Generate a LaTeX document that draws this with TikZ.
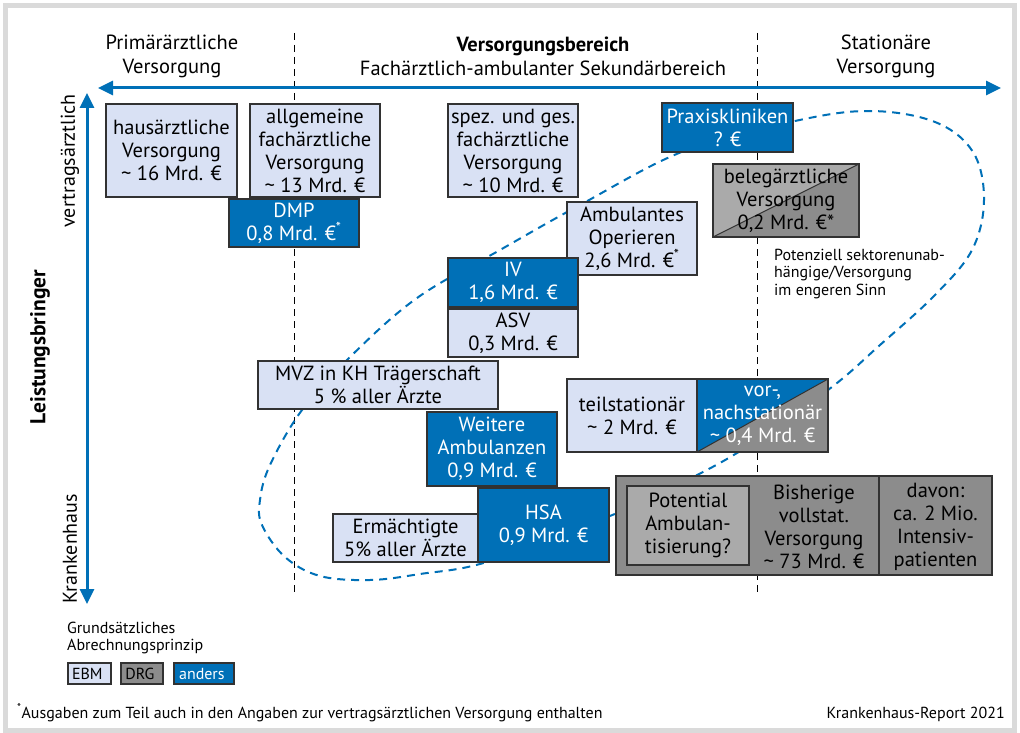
\documentclass[tikz,border=0pt]{standalone}
\usepackage{fontspec}
\setmainfont{PT Sans}
\usetikzlibrary{arrows.meta}
\definecolor{kblue}{RGB}{0,112,183}
\definecolor{ebmfill}{RGB}{217,225,244}
\definecolor{drgfill}{RGB}{140,140,140}
\definecolor{lightdrg}{RGB}{170,170,170}
\definecolor{edge}{RGB}{50,50,50}
\definecolor{frame}{RGB}{218,218,218}
\newcommand{\boxfont}{\fontsize{20.5}{23}\selectfont}
\newcommand{\headfont}{\fontsize{20.5}{24}\selectfont}
\newcommand{\smallfont}{\fontsize{16}{17.5}\selectfont}

\tikzset{
  box/.style={rectangle, draw=edge, line width=1.3, inner sep=0pt, align=center, font=\boxfont},
  ebm/.style={box, fill=ebmfill},
  drg/.style={box, fill=drgfill},
  anders/.style={box, fill=kblue, text=white},
  halfbox/.style 2 args={box, path picture={
      \fill[#1] (path picture bounding box.south west) -- (path picture bounding box.north west)
        -- (path picture bounding box.north east) -- cycle;
      \fill[#2] (path picture bounding box.south west) -- (path picture bounding box.south east)
        -- (path picture bounding box.north east) -- cycle;
      \draw[edge, line width=1] (path picture bounding box.south west) -- (path picture bounding box.north east);}},
  axis/.style={kblue, line width=3, {Triangle[length=15pt,width=14pt]}-{Triangle[length=15pt,width=14pt]}},
  divider/.style={black, line width=0.9, dash pattern=on 7pt off 5pt},
}

\begin{document}
\begin{tikzpicture}[x=1pt, y=-1pt]
  \useasboundingbox (0,0) rectangle (1020,733);
  \draw[frame, line width=5] (5.5,5.5) rectangle (1014.5,730.5);

  % sector borders
  \coordinate (dl1) at (294,33);
  \coordinate (dl2) at (294,596);
  \coordinate (dr1) at (757,33);
  \coordinate (dr2) at (757,596);
  \draw[divider] (dl1) -- (dl2);
  \draw[divider] (dr1) -- (dr2);

  % sektorenunabhaengige Versorgung
  \draw[kblue, line width=2, dash pattern=on 8pt off 6pt]
    plot [smooth cycle, tension=0.6] coordinates {
      (684,151) (795,121) (870,111) (935,122) (973,152) (984,200) (972,250) (935,295)
      (880,345) (828,390) (737,453) (660,493) (600,520) (487,562) (420,574) (370,580)
      (320,576) (285,557) (262,525) (260,500) (270,465) (302,410) (350,357) (417,298)
      (500,250) (580,205) };

  \node[font=\headfont, align=center] (hprim) at (172,56) { Primärärztliche\\Versorgung };
  \node[font=\headfont, align=center] (hvers) at (543,56) { \textbf{Versorgungsbereich}\\Fachärztlich-ambulanter Sekundärbereich };
  \node[font=\headfont, align=center] (hstat) at (886,56) { Stationäre\\Versorgung };

  \coordinate (hl) at (98,88);
  \coordinate (hr) at (1001,88);
  \draw[axis] (hl) -- (hr);
  \coordinate (vt) at (87,93);
  \coordinate (vb) at (87,604);
  \draw[axis] (vt) -- (vb);

  \node[font=\fontsize{20}{22}\selectfont, rotate=90, anchor=east, inner sep=0] (vertrag) at (70,94) { vertragsärztlich };
  \node[font=\fontsize{20}{22}\selectfont, rotate=90, anchor=west, inner sep=0] (khaus) at (70,604) { Krankenhaus };
  \node[font=\fontsize{21.5}{22}\bfseries, rotate=90] (leist) at (40,347) { Leistungsbringer };

  % vertragsaerztlich
  \node[ebm, minimum width=131, minimum height=93] (haus) at (171.5,150.5) { hausärztliche\\Versorgung\\\textasciitilde{} 16 Mrd. € };
  \node[ebm, minimum width=130, minimum height=93] (allg) at (315,150.5) { allgemeine\\fachärztliche\\Versorgung\\\textasciitilde{} 13 Mrd. € };
  \node[anders, minimum width=130, minimum height=48] (dmp) at (294,223) { DMP\\0,8 Mrd. €\textsuperscript{*} };
  \node[ebm, minimum width=130, minimum height=93] (spez) at (513,150.5) { spez. und ges.\\fachärztliche\\Versorgung\\\textasciitilde{} 10 Mrd. € };
  \node[anders, minimum width=131, minimum height=49] (praxis) at (727.5,127.5) { Praxiskliniken\\? € };
  \node[halfbox={lightdrg}{drgfill}, minimum width=146, minimum height=73] (beleg) at (786,200.5) { belegärztliche\\Versorgung\\0,2 Mrd. €* };
  \node[ebm, minimum width=130, minimum height=73] (ambop) at (632,238.5) { Ambulantes\\Operieren\\2,6 Mrd. €\textsuperscript{*} };
  \node[anders, minimum width=130, minimum height=49] (iv) at (513,282.5) { IV\\1,6 Mrd. € };
  \node[ebm, minimum width=130, minimum height=48] (asv) at (513,333) { ASV\\0,3 Mrd. € };

  \node[font=\smallfont, align=left, anchor=north west, inner sep=0] (potenziell) at (774,248.5) { Potenziell sektorenunab-\\hängige/Versorgung\\im engeren Sinn };

  % Krankenhaus
  \node[ebm, minimum width=240, minimum height=48] (mvz) at (378,385) { MVZ in KH Trägerschaft\\5 \% aller Ärzte };
  \node[anders, minimum width=130, minimum height=74] (weitere) at (492,449) { Weitere\\Ambulanzen\\0,9 Mrd. € };
  \node[ebm, minimum width=130, minimum height=73] (teilstat) at (632,415.5) { teilstationär\\\textasciitilde{} 2 Mrd. € };
  \node[halfbox={kblue}{drgfill}, text=white, minimum width=131, minimum height=73] (vornach) at (762.5,415.5) { vor-,\\nachstationär\\\textasciitilde{} 0,4 Mrd. € };
  \node[ebm, minimum width=145, minimum height=48] (ermaecht) at (405.5,538) { Ermächtigte\\5\% aller Ärzte };
  \node[anders, minimum width=131, minimum height=74] (hsa) at (543.5,525) { HSA\\0,9 Mrd. € };

  \node[drg, minimum width=376, minimum height=99] (vollstat) at (804,525.5) {};
  \node[box, fill=lightdrg, minimum width=122, minimum height=79] (potamb) at (688,525.5) { Potential\\Ambulan-\\tisierung? };
  \coordinate (split) at (879,0);
  \draw[edge, line width=1.3] (vollstat.north -| split) -- (vollstat.south -| split);
  \node[font=\boxfont, align=center] (bisher) at (814,527) { Bisherige\\vollstat.\\Versorgung\\\textasciitilde{} 73 Mrd. € };
  \node[font=\boxfont, align=center] (davon) at (935.5,527) { davon:\\ca. 2 Mio.\\Intensiv-\\patienten };

  % legend
  \node[font=\smallfont, align=left, anchor=north west, inner sep=0] (legtitle) at (67,621.5) { Grundsätzliches\\Abrechnungsprinzip };
  \node[ebm, font=\smallfont, minimum width=43, minimum height=21] (ebmkey) at (89.5,673.5) { EBM };
  \node[drg, font=\smallfont, minimum width=42, minimum height=21] (drgkey) at (142,673.5) { DRG };
  \node[anders, font=\smallfont, minimum width=60, minimum height=21] (anderskey) at (204,673.5) { anders };

  \node[font=\smallfont, anchor=base west, inner sep=0] (fussnote) at (17,718) { \textsuperscript{*}Ausgaben zum Teil auch in den Angaben zur vertragsärztlichen Versorgung enthalten };
  \node[font=\smallfont, anchor=base east, inner sep=0] (quelle) at (1005,718) { Krankenhaus-Report 2021 };
\end{tikzpicture}
\end{document}
